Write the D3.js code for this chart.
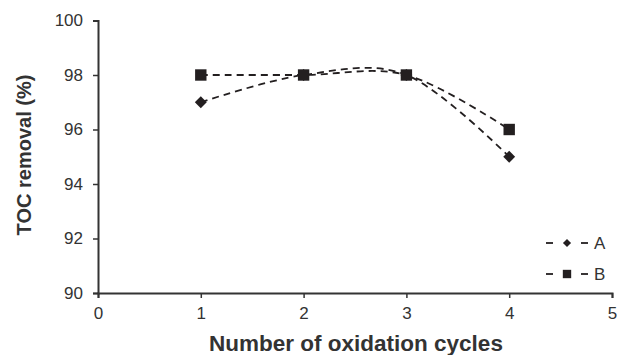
<!DOCTYPE html>
<html>
<head>
<meta charset="utf-8">
<script src="https://cdn.jsdelivr.net/npm/d3@7"></script>
<style>
  body { margin: 0; background: #fff; }
  svg { display: block; font-family: "Liberation Sans", Arial, sans-serif; }
</style>
</head>
<body>
<div id="container"></div>
<script>
const cycles = [1, 2, 3, 4];
const seriesA = [97, 98, 98, 95];
const seriesB = [98, 98, 98, 96];
const xTicks = [0, 1, 2, 3, 4, 5];
const yTicks = [90, 92, 94, 96, 98, 100];

const width = 617;
const height = 355;
const ink = "#231f20";

const svg = d3.select("#container").append("svg").attr("width", width).attr("height", height);

const x = d3.scaleLinear().domain([0, 5]).range([98, 612]);
const y = d3.scaleLinear().domain([90, 100]).range([293, 20.5]);

// axes
const xAxis = svg.append("g")
  .attr("transform", `translate(0,${y(90)})`)
  .call(d3.axisBottom(x).tickValues(xTicks).tickFormat(d3.format("d")).tickSizeOuter(0).tickSize(5).tickPadding(9));
const yAxis = svg.append("g")
  .attr("transform", `translate(${x(0)},0)`)
  .call(d3.axisLeft(y).tickValues(yTicks).tickFormat(d3.format("d")).tickSizeOuter(0).tickSize(5).tickPadding(10));

[xAxis, yAxis].forEach((g) => {
  g.attr("font-size", 17).attr("font-family", "Liberation Sans, Arial, sans-serif");
  g.select(".domain").attr("stroke", "#333").attr("stroke-width", 2);
  g.selectAll(".tick line").attr("stroke", "#333").attr("stroke-width", 1.5);
  g.selectAll(".tick text").attr("fill", "#333");
});

// axis titles
svg.append("text")
  .attr("x", 356).attr("y", 350.5)
  .attr("text-anchor", "middle")
  .attr("font-size", 22.5).attr("font-weight", "bold").attr("fill", "#333")
  .text("Number of oxidation cycles");
svg.append("text")
  .attr("transform", "translate(31,155) rotate(-90)")
  .attr("text-anchor", "middle")
  .attr("font-size", 20).attr("font-weight", "bold").attr("fill", "#333")
  .text("TOC removal (%)");

const series = [
  { name: "A", values: seriesA, symbol: d3.symbolDiamond2, size: 90, legendSize: 42 },
  { name: "B", values: seriesB, symbol: d3.symbolSquare, size: 130, legendSize: 70 }
];

const line = d3.line()
  .x((d) => x(d[0]))
  .y((d) => y(d[1]))
  .curve(d3.curveCardinal.tension(0));

series.forEach((s) => {
  const pts = cycles.map((c, i) => [c, s.values[i]]);
  svg.append("path")
    .attr("d", line(pts))
    .attr("fill", "none")
    .attr("stroke", ink)
    .attr("stroke-width", 1.8)
    .attr("stroke-dasharray", "7,5");
  svg.selectAll(null).data(pts).enter().append("path")
    .attr("transform", (d) => `translate(${x(d[0])},${y(d[1])})`)
    .attr("d", d3.symbol().type(s.symbol).size(s.size))
    .attr("fill", ink);
});

// legend
const legend = svg.append("g");
series.forEach((s, i) => {
  const ly = 243 + i * 31;
  const g = legend.append("g").attr("transform", `translate(0,${ly})`);
  g.append("line").attr("x1", 546).attr("x2", 553).attr("stroke", ink).attr("stroke-width", 1.8);
  g.append("line").attr("x1", 581).attr("x2", 588).attr("stroke", ink).attr("stroke-width", 1.8);
  g.append("path").attr("transform", "translate(567,0)")
    .attr("d", d3.symbol().type(s.symbol).size(s.legendSize)).attr("fill", ink);
  g.append("text").attr("x", 594).attr("y", 6)
    .attr("font-size", 17).attr("fill", "#333").text(s.name);
});
</script>
</body>
</html>
